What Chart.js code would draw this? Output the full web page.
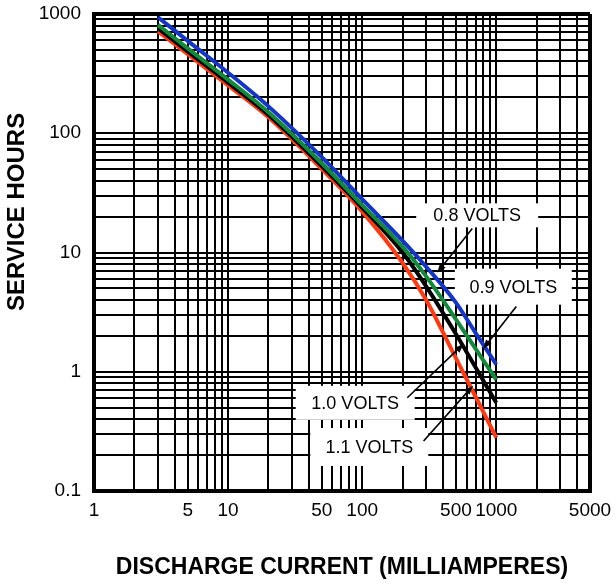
<!DOCTYPE html>
<html><head><meta charset="utf-8">
<script src="https://cdn.jsdelivr.net/npm/chart.js@4.4.1/dist/chart.umd.min.js"></script>
<style>html,body{margin:0;padding:0;background:#fff;} #wrap{width:616px;height:584px;position:relative;}</style>
</head><body><div id="wrap"><canvas id="c" width="616" height="584"></canvas></div>
<script>
// ---- data ----
const currents = [3, 5, 10, 20, 50, 100, 200, 300, 500, 700, 1000];
const hours08 = [940, 595, 322, 168, 63, 28, 12.6, 7.6, 3.8, 2.12, 1.15];
const hours09 = [810, 515, 282, 150, 56, 25, 11.2, 6.3, 2.75, 1.56, 0.86];
const hours10 = [760, 485, 266, 143, 53, 23.8, 10.0, 5.2, 2.07, 1.09, 0.55];
const hours11 = [715, 460, 252, 136, 50, 22, 8.2, 4.0, 1.3, 0.62, 0.28];
const seriesNames = ['0.8 VOLTS', '0.9 VOLTS', '1.0 VOLTS', '1.1 VOLTS'];
const xTickLabels = [1, 5, 10, 50, 100, 500, 1000, 5000];
const yTickLabels = [0.1, 1, 10, 100, 1000];
const gridMultipliers = [1, 2, 3, 4, 5, 6, 7, 8, 9];
const xDecades = [1, 10, 100, 1000];
const yDecades = [0.1, 1, 10, 100];
const xMin = 1, xMax = 5000, yMin = 0.1, yMax = 1000;
const xTitle = 'DISCHARGE CURRENT (MILLIAMPERES)';
const yTitle = 'SERVICE HOURS';

// annotation callouts (data coordinates)
const callouts = [
  {text: seriesNames[0], at: [721, 20.5], tail: [662, 15.9], head: [363, 6.79]},
  {text: seriesNames[1], at: [1340, 5.17], tail: [1410, 3.52], head: [800, 1.56]},
  {text: seriesNames[2], at: [88.7, 0.549], tail: [217, 0.605], head: [570, 1.71]},
  {text: seriesNames[3], at: [113, 0.234], tail: [287, 0.263], head: [670, 0.763]}
];
const calloutBoxes = [[122, 24], [117, 36], [119, 34], [118, 38]];

// ---- derived ----
function gridValues(decades, maxV) {
  const out = [];
  decades.forEach(d => gridMultipliers.forEach(m => { const v = +(m * d).toPrecision(6); if (v <= maxV) out.push(v); }));
  if (!out.includes(maxV)) out.push(maxV);
  return out;
}
const xGrid = gridValues(xDecades, xMax);
const yGrid = gridValues(yDecades, yMax);
const near = (a, b) => Math.abs(a - b) / b < 1e-6;

const FONT = '"Liberation Sans", Arial, Helvetica, sans-serif';
const colors = ['#1436c8', '#138a3a', '#000000', '#ff3a10'];
const series = [hours08, hours09, hours10, hours11];

const datasets = series.map((s, i) => ({
  label: seriesNames[i],
  data: currents.map((c, j) => ({x: c, y: s[j]})),
  borderColor: colors[i],
  backgroundColor: colors[i],
  borderWidth: 4,
  pointRadius: 0,
  fill: false,
  cubicInterpolationMode: 'monotone'
}));

const edgeWidth = (min, max) => (ctx) => {
  const v = ctx.tick ? ctx.tick.value : null;
  return (v !== null && (near(v, min) || near(v, max))) ? 4 : 2;
};

const calloutPlugin = {
  id: 'callouts',
  beforeDatasetsDraw(chart) {
    const {ctx, scales: {x, y}} = chart;
    ctx.save();
    ctx.fillStyle = '#fff';
    callouts.forEach((c, i) => {
      const px = x.getPixelForValue(c.at[0]), py = y.getPixelForValue(c.at[1]);
      const [w, h] = calloutBoxes[i];
      ctx.fillRect(px - w / 2, py - h / 2, w, h);
    });
    ctx.restore();
  },
  afterDatasetsDraw(chart) {
    const {ctx, scales: {x, y}} = chart;
    ctx.save();
    ctx.fillStyle = '#000';
    ctx.strokeStyle = '#000';
    ctx.font = '18px ' + FONT;
    ctx.textAlign = 'center';
    ctx.textBaseline = 'middle';
    callouts.forEach(c => {
      const px = x.getPixelForValue(c.at[0]), py = y.getPixelForValue(c.at[1]);
      ctx.fillText(c.text, px, py + 1);
      const tx = x.getPixelForValue(c.tail[0]), ty = y.getPixelForValue(c.tail[1]);
      const hx = x.getPixelForValue(c.head[0]), hy = y.getPixelForValue(c.head[1]);
      const ang = Math.atan2(hy - ty, hx - tx);
      const L = 9, W = 3.5;
      ctx.lineWidth = 1.6;
      ctx.beginPath();
      ctx.moveTo(tx, ty);
      ctx.lineTo(hx - Math.cos(ang) * L * 0.8, hy - Math.sin(ang) * L * 0.8);
      ctx.stroke();
      ctx.beginPath();
      ctx.moveTo(hx, hy);
      ctx.lineTo(hx - Math.cos(ang) * L - Math.sin(ang) * W, hy - Math.sin(ang) * L + Math.cos(ang) * W);
      ctx.lineTo(hx - Math.cos(ang) * L + Math.sin(ang) * W, hy - Math.sin(ang) * L - Math.cos(ang) * W);
      ctx.closePath();
      ctx.fill();
    });
    ctx.restore();
  },
  afterDraw(chart) {
    const {ctx, chartArea} = chart;
    ctx.save();
    ctx.fillStyle = '#000';
    ctx.font = 'bold 24px ' + FONT;
    ctx.textAlign = 'center';
    ctx.textBaseline = 'middle';
    ctx.translate(chartArea.left - 77, chartArea.top + (chartArea.bottom - chartArea.top) * 0.415);
    ctx.rotate(-Math.PI / 2);
    ctx.fillText(yTitle, 0, 0);
    ctx.restore();
  }
};

new Chart(document.getElementById('c'), {
  type: 'line',
  data: {datasets},
  plugins: [calloutPlugin],
  options: {
    responsive: false,
    animation: false,
    events: [],
    layout: {padding: {top: 14, right: 26, left: 0, bottom: 0}},
    plugins: {legend: {display: false}, tooltip: {enabled: false}},
    scales: {
      x: {
        type: 'logarithmic', min: xMin, max: xMax,
        afterFit(s) { s.height = 93; s.paddingLeft = 0; s.paddingRight = 0; },
        afterBuildTicks(s) { s.ticks = xGrid.map(v => ({value: v})); },
        grid: {color: '#000', lineWidth: edgeWidth(xMin, xMax), drawTicks: false},
        border: {display: true, color: '#000', width: 4},
        ticks: {
          autoSkip: false, maxRotation: 0, minRotation: 0, padding: 8, color: '#000',
          font: {family: FONT, size: 19},
          callback: (v) => xTickLabels.some(t => near(v, t)) ? String(v) : ''
        },
        title: {display: true, text: xTitle, color: '#000', font: {family: FONT, size: 23, weight: 'bold'}, padding: {top: 0, bottom: 3}}
      },
      y: {
        type: 'logarithmic', min: yMin, max: yMax,
        afterFit(s) { s.width = 94; s.paddingTop = 0; s.paddingBottom = 0; },
        afterBuildTicks(s) { s.ticks = yGrid.map(v => ({value: v})); },
        grid: {color: '#000', lineWidth: edgeWidth(yMin, yMax), drawTicks: false},
        border: {display: true, color: '#000', width: 4},
        ticks: {
          autoSkip: false, padding: 13, color: '#000',
          font: {family: FONT, size: 19},
          callback: (v) => yTickLabels.some(t => near(v, t)) ? String(v) : ''
        },
        title: {display: false}
      }
    }
  }
});
</script>
</body></html>
